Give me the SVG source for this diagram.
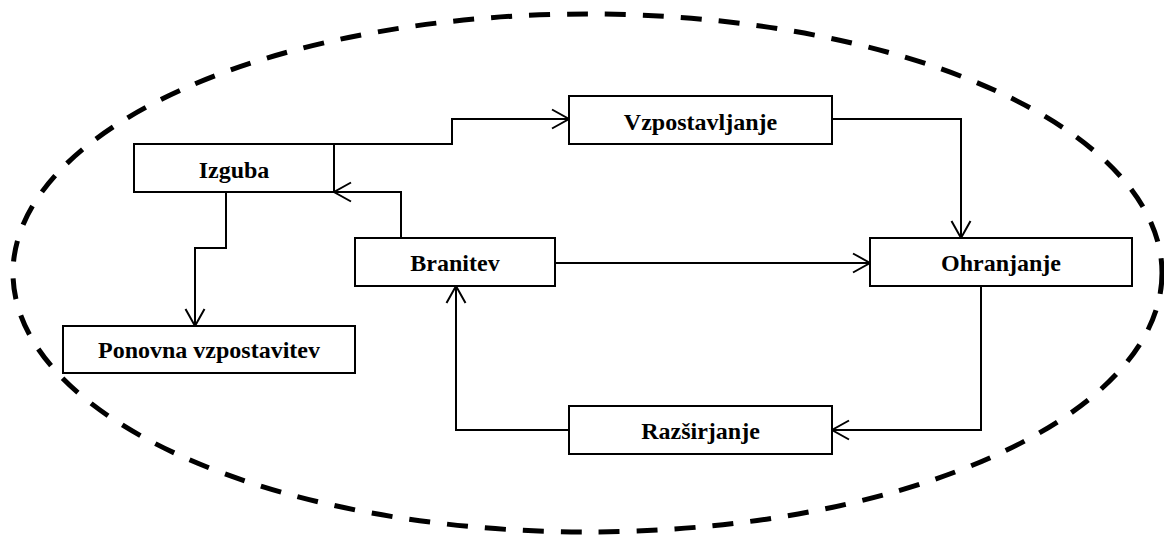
<svg xmlns="http://www.w3.org/2000/svg" width="1164" height="536" viewBox="0 0 1164 536">
<style>
.box{fill:#fff;stroke:#000;stroke-width:2}
.lbl{font-family:"Liberation Serif","Times New Roman",serif;font-weight:bold;font-size:24px;text-anchor:middle;fill:#000}
.conn{fill:none;stroke:#000;stroke-width:2;marker-end:url(#arr)}
</style>
<defs>
<marker id="arr" viewBox="-20 -12 22 24" markerWidth="22" markerHeight="24" refX="0" refY="0" orient="auto" markerUnits="userSpaceOnUse" overflow="visible">
<path d="M-17,-9.5 L0,0 L-17,9.5" fill="none" stroke="#000" stroke-width="2"/>
</marker>
</defs>
<rect width="1164" height="536" fill="#fff"/>
<ellipse cx="587.5" cy="273" rx="574.5" ry="259" fill="none" stroke="#000" stroke-width="5" stroke-dasharray="21 17"/>
<g id="connectors">
<path class="conn" d="M334,144 H452 V119 H569"/>
<path class="conn" d="M832,119 H961 V238"/>
<path class="conn" d="M401,238 V192 H334"/>
<path class="conn" d="M226,192 V248 H195 V326"/>
<path class="conn" d="M555,263 H870"/>
<path class="conn" d="M981,286 V430 H832"/>
<path class="conn" d="M569,430 H456 V286"/>
</g>
<g id="izguba"><rect class="box" x="134" y="144" width="200" height="48"/><text class="lbl" x="234" y="178">Izguba</text></g>
<g id="vzpostavljanje"><rect class="box" x="569" y="96" width="263" height="48"/><text class="lbl" x="700.5" y="130">Vzpostavljanje</text></g>
<g id="branitev"><rect class="box" x="355" y="238" width="200" height="48"/><text class="lbl" x="455" y="271">Branitev</text></g>
<g id="ohranjanje"><rect class="box" x="870" y="238" width="262" height="48"/><text class="lbl" x="1001" y="271">Ohranjanje</text></g>
<g id="ponovna"><rect class="box" x="63" y="326" width="292" height="47"/><text class="lbl" x="209" y="358">Ponovna vzpostavitev</text></g>
<g id="razsirjanje"><rect class="box" x="569" y="406" width="263" height="48"/><text class="lbl" x="700.5" y="439">Razširjanje</text></g>
</svg>
